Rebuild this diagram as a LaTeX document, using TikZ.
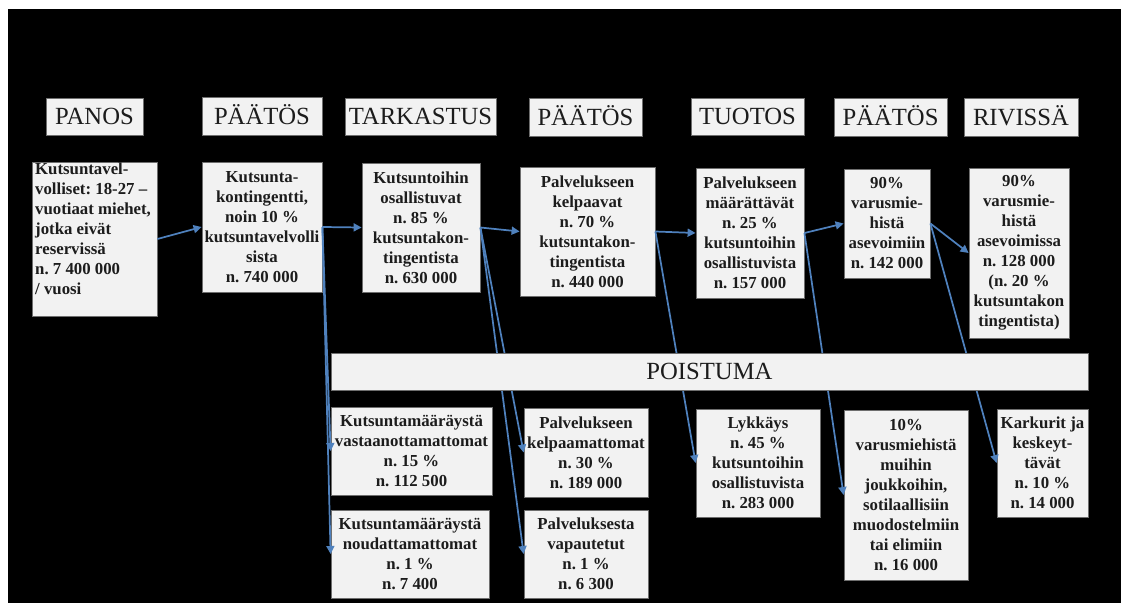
\documentclass[tikz,border=0pt]{standalone}
\usepackage{fontspec}
\setmainfont{Liberation Serif}
\usetikzlibrary{arrows.meta}
\definecolor{boxfill}{HTML}{F2F2F2}
\definecolor{boxline}{HTML}{6E6E6E}
\definecolor{flow}{HTML}{4F81BD}
\definecolor{ink}{HTML}{1C1C1C}
\begin{document}
\frenchspacing
\begin{tikzpicture}[x=0.75pt,y=-0.75pt,
  % a box given by its corners: left/top/right/bottom, in pixel units
  span/.style args={#1/#2/#3/#4}{minimum width={(#3-#1)*0.75pt},
    minimum height={(#4-#2)*0.75pt}, at={({(#1+#3)/2},{(#2+#4)/2})}},
  panel/.style={draw=boxline, line width=0.6pt, fill=boxfill, inner sep=0pt,
    text=ink, anchor=center},
  stage/.style={panel, font=\fontsize{18.5}{20}\selectfont,
    text height=12.25pt, text depth=0pt},
  info/.style={panel, align=center, font=\fontsize{12.6}{15}\selectfont\bfseries},
  flowarrow/.style={draw=flow, line width=1.3pt, -{Triangle[length=6pt,width=6pt]}}]
\useasboundingbox (0,0) rectangle (1121,603);
\fill[white] (0,0) rectangle (1121,603);
\fill[black] (8,9) rectangle (1121,603);

% stage headings
\node[stage, span=46/98/143/135]   (hPanos)     {PANOS};
\node[stage, span=202/97/322/135]  (hPaatosA)   {PÄÄTÖS};
\node[stage, span=345/98/496/135]  (hTarkastus) {TARKASTUS};
\node[stage, span=529/98/642/136]  (hPaatosB)   {PÄÄTÖS};
\node[stage, span=691/98/804/135]  (hTuotos)    {TUOTOS};
\node[stage, span=834/98/947/136]  (hPaatosC)   {PÄÄTÖS};
\node[stage, span=964/98/1078/136] (hRivissa)   {RIVISSÄ};

% main flow
\node[info, span=32/162/157/316, text width=89pt, align=flush left] (A)
  {Kutsuntavel-\\volliset: 18-27 –\\vuotiaat miehet,\\jotka eivät\\reservissä\\n. 7 400 000\\/ vuosi\\\mbox{}};
\node[info, span=202/162/322/292] (B)
  {Kutsunta-\\kontingentti,\\noin 10~\%\\kutsuntavelvolli\\sista\\n. 740 000};
\node[info, span=362/163/480/292] (C)
  {Kutsuntoihin\\osallistuvat\\n. 85~\%\\kutsuntakon-\\tingentista\\n. 630 000};
\node[info, span=520/167/655/296] (D)
  {Palvelukseen\\kelpaavat\\n. 70~\%\\kutsuntakon-\\tingentista\\n. 440 000};
\node[info, span=696/168/804/298] (E)
  {Palvelukseen\\määrättävät\\n. 25~\%\\kutsuntoihin\\osallistuvista\\n. 157 000};
\node[info, span=844/169/930/278] (F)
  {90\%\\varusmie-\\histä\\asevoimiin\\n. 142 000};
\node[info, span=969/168/1069/338] (G)
  {90\%\\varusmie-\\histä\\asevoimissa\\n. 128 000\\(n. 20~\%\\kutsuntakon\\tingentista)};

% outflow
\node[info, span=331/407/492/495] (H)
  {Kutsuntamääräystä\\vastaanottamattomat\\n. 15~\%\\n. 112 500};
\node[info, span=331/510/489/598] (I)
  {Kutsuntamääräystä\\noudattamattomat\\n. 1~\%\\n. 7 400};
\node[info, span=524/408/648/497] (J)
  {Palvelukseen\\kelpaamattomat\\n. 30~\%\\n. 189 000};
\node[info, span=524/510/648/598] (K)
  {Palveluksesta\\vapautetut\\n. 1~\%\\n. 6 300};
\node[info, span=696/409/820/517] (L)
  {Lykkäys\\n. 45~\%\\kutsuntoihin\\osallistuvista\\n. 283 000};
\node[info, span=844/410/968/580] (M)
  {10\%\\varusmiehistä\\muihin\\joukkoihin,\\sotilaallisiin\\muodostelmiin\\tai elimiin\\n. 16 000};
\node[info, span=997/409/1088/517] (N)
  {Karkurit ja\\keskeyt-\\tävät\\n. 10~\%\\n. 14 000};

% connectors
\draw[flowarrow] (A.east) -- (B.west);
\draw[flowarrow] (B.east) -- (C.west);
\draw[flowarrow] (B.east) -- (H.west);
\draw[flowarrow] (B.east) -- (I.west);
\draw[flowarrow] (C.east) -- (D.west);
\draw[flowarrow] (C.east) -- (J.west);
\draw[flowarrow] (C.east) -- (K.west);
\draw[flowarrow] (D.east) -- (E.west);
\draw[flowarrow] (D.east) -- (L.west);
\draw[flowarrow] (E.east) -- (F.west);
\draw[flowarrow] (E.east) -- (M.west);
\draw[flowarrow] (F.east) -- (G.west);
\draw[flowarrow] (F.east) -- (N.west);

% attrition band, laid over the connectors
\node[stage, span=331/353/1088/390] (poistuma) {POISTUMA};
\end{tikzpicture}
\end{document}
